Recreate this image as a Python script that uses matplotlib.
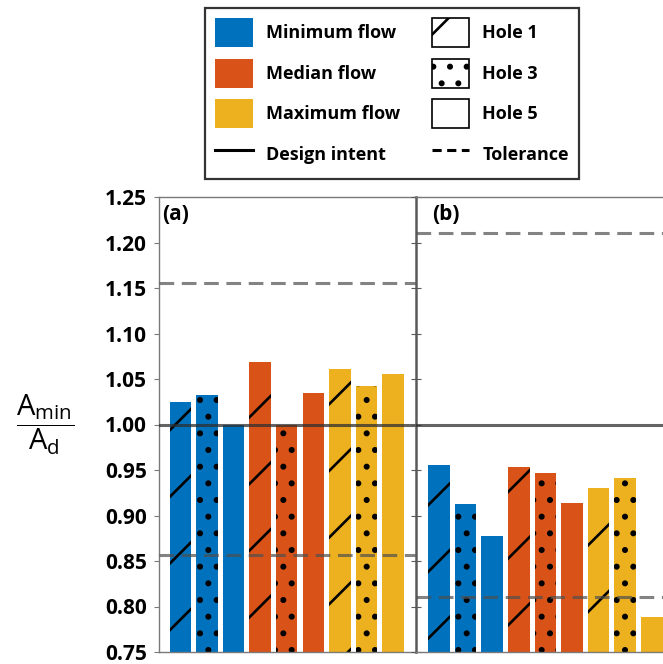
import matplotlib
matplotlib.use("Agg")
import matplotlib.pyplot as plt
from matplotlib.patches import Patch
from matplotlib.lines import Line2D
from matplotlib.ticker import FormatStrFormatter
import numpy as np

plt.rcParams['font.family'] = ['Open Sans', 'DejaVu Sans']
plt.rcParams['mathtext.default'] = 'regular'
plt.rcParams['hatch.linewidth'] = 0.95

# data
flows = ['Minimum flow', 'Median flow', 'Maximum flow']
holes = ['Hole 1', 'Hole 3', 'Hole 5']
flow_colors = ['#0072BD', '#D95319', '#EDB120']
hole_hatches = ['/', '..', '']

panel_a = [[1.025, 1.032, 1.000],
           [1.069, 0.999, 1.035],
           [1.061, 1.042, 1.056]]
panel_b = [[0.956, 0.913, 0.878],
           [0.953, 0.947, 0.914],
           [0.930, 0.941, 0.788]]
design_intent = 1.0
tol_a = [0.857, 1.155]
tol_b = [0.810, 1.210]

fig = plt.figure(figsize=(3.315, 3.32), dpi=200)
W, H = 663, 664
ax_a = fig.add_axes([159 / W, 1 - 652 / H, 257 / W, 455 / H])
ax_b = fig.add_axes([416 / W, 1 - 652 / H, 257 / W, 455 / H])

spine_col = '#7a7a7a'
for ax, vals, tol, xlim, tag, tagx in [(ax_a, panel_a, tol_a, (-0.80, 8.86), '(a)', 0.012),
                                        (ax_b, panel_b, tol_b, (-0.865, 8.795), '(b)', 0.062)]:
    for i, flow in enumerate(flows):
        for j, hole in enumerate(holes):
            ax.bar(i * 3 + j, vals[i][j], width=0.81, bottom=0,
                   color=flow_colors[i], hatch=hole_hatches[j],
                   edgecolor='black', linewidth=0, zorder=2)
    ax.axhline(design_intent, color='#303030', alpha=0.75, lw=1.1, zorder=3)
    for t in tol:
        ax.axhline(t, color='#4f4f4f', alpha=0.7, lw=1.1,
                   linestyle=(0, (4.8, 2.5)), zorder=3)
    ax.set_xlim(*xlim)
    ax.set_ylim(0.75, 1.25)
    ax.set_xticks([])
    ax.set_yticks(np.arange(0.75, 1.2501, 0.05))
    for s in ['top', 'bottom', 'left', 'right']:
        ax.spines[s].set_color(spine_col)
        ax.spines[s].set_linewidth(0.5)
    ax.text(tagx, 0.985, tag, transform=ax.transAxes, ha='left', va='top',
            fontsize=7.5, fontweight='bold')

ax_a.spines['right'].set_visible(False)
ax_a.yaxis.set_major_formatter(FormatStrFormatter('%.2f'))
ax_a.tick_params(axis='y', direction='out', length=1.8, width=0.4,
                 color=spine_col, pad=2.5, labelsize=7.5)
for lab in ax_a.get_yticklabels():
    lab.set_fontweight('bold')

ax_b.spines['left'].set_color('#5a5a5a')
ax_b.spines['left'].set_linewidth(0.9)
ax_b.spines['right'].set_visible(False)
ax_b.tick_params(axis='y', direction='inout', length=3.6, width=0.4,
                 color='#5a5a5a', labelleft=False)

ax_a.set_ylabel(r'$\dfrac{A_{min}}{A_d}$', rotation=0, fontsize=10.5,
                ha='center', va='center')
ax_a.yaxis.set_label_coords(-0.444, 0.5)

handles = [Patch(facecolor=c, edgecolor='none') for c in flow_colors]
handles.append(Line2D([], [], color='black', lw=1.1))
handles += [Patch(facecolor='white', edgecolor='black', linewidth=0.6, hatch=h)
            for h in hole_hatches]
handles.append(Line2D([], [], color='black', lw=1.1, linestyle=(0, (3.0, 1.8))))
labels = flows + ['Design intent'] + holes + ['Tolerance']

leg = fig.legend(handles, labels, ncol=2, loc='upper left',
                 bbox_to_anchor=(205 / W, 1 - 8 / H), prop={'weight': 'bold', 'size': 6.5},
                 frameon=True, fancybox=False, edgecolor='black', borderpad=0.55,
                 handlelength=2.1, handleheight=2.1, handletextpad=0.72,
                 labelspacing=0.64, columnspacing=1.75, borderaxespad=0)
leg.get_frame().set_linewidth(0.8)

fig.savefig('out.png', dpi=200)
